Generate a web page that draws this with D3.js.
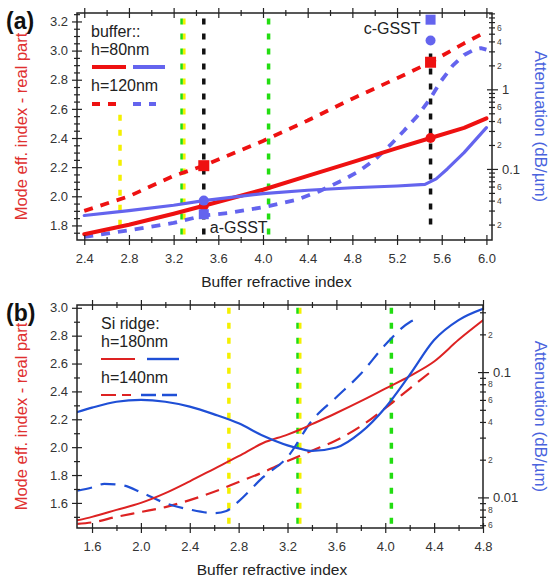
<!DOCTYPE html>
<html><head><meta charset="utf-8">
<script src="https://cdn.jsdelivr.net/npm/d3@7"></script>
<style>
body{margin:0;background:#fff}
svg{display:block}
text{font-family:"Liberation Sans",Arial,sans-serif}
</style>
</head><body>
<svg id="c" width="549" height="578"></svg>
<script>
// ---------- Panel (a): buffer thickness ----------
const aRedX = [2.4, 2.8, 3.2, 3.47, 4.0, 4.4, 4.8, 5.2, 5.5, 5.8, 6.0];
const aRedSolid = [1.74, 1.805, 1.88, 1.935, 2.045, 2.14, 2.235, 2.33, 2.40, 2.47, 2.535];
const aRedDash  = [1.90, 2.00, 2.14, 2.21, 2.38, 2.52, 2.67, 2.81, 2.92, 3.05, 3.13];
const aBlueSolidX = [2.4, 2.8, 3.2, 3.47, 4.0, 4.4, 4.8, 5.2, 5.45, 5.55, 5.65, 5.8, 6.0];
const aBlueSolid  = [0.026, 0.030, 0.035, 0.040, 0.049, 0.054, 0.058, 0.061, 0.064, 0.075, 0.10, 0.16, 0.33];
const aBlueDashX = [2.4, 2.8, 3.2, 3.47, 3.7, 4.0, 4.3, 4.5, 4.72, 4.85, 5.0, 5.14, 5.26, 5.38, 5.49, 5.59, 5.7, 5.8, 5.9, 5.95, 6.0];
const aBlueDash  = [0.014, 0.017, 0.021, 0.026, 0.028, 0.033, 0.041, 0.052, 0.073, 0.092, 0.13, 0.20, 0.30, 0.46, 0.74, 1.25, 2.0, 2.7, 3.2, 3.3, 3.15];
const aMarkX = [3.47, 5.5];
const aMarkLabel = ["a-GSST", "c-GSST"];
const aRedCircle = [1.935, 2.40];
const aRedSquare = [2.21, 2.92];
const aBlueCircle = [0.040, 4.1];
const aBlueSquare = [0.027, 7.5];
const aXTicks = [2.4, 2.8, 3.2, 3.6, 4.0, 4.4, 4.8, 5.2, 5.6, 6.0];
const aYTicks = [1.8, 2.0, 2.2, 2.4, 2.6, 2.8, 3.0, 3.2];
// vertical guide lines: x, y from, y to (left axis units), style
const aGuideX = [2.72, 3.28, 3.47, 4.05, 5.5];
const aGuideY0 = [1.77, 1.71, 1.71, 1.71, 1.75];
const aGuideY1 = [2.56, 3.22, 3.22, 3.22, 2.98];
const aGuideKind = ["yellow", "greenyellow", "black", "green", "black"];

// ---------- Panel (b): Si ridge thickness ----------
const bX = [1.48, 1.6, 1.8, 2.0, 2.2, 2.4, 2.6, 2.8, 3.0, 3.2, 3.3, 3.4, 3.6, 3.8, 4.0, 4.2, 4.4, 4.6, 4.8];
const bRedSolid  = [1.475, 1.50, 1.55, 1.60, 1.67, 1.755, 1.845, 1.935, 2.03, 2.09, 2.125, 2.165, 2.245, 2.33, 2.42, 2.51, 2.615, 2.77, 2.91];
const bBlueSolid = [0.048, 0.052, 0.058, 0.060, 0.058, 0.053, 0.046, 0.039, 0.031, 0.026, 0.0245, 0.0235, 0.025, 0.033, 0.052, 0.095, 0.18, 0.26, 0.32];
const bRedDashX = [1.48, 1.6, 1.8, 2.0, 2.2, 2.4, 2.6, 2.8, 3.0, 3.2, 3.4, 3.6, 3.8, 4.0, 4.2, 4.4];
const bRedDash  = [1.45, 1.46, 1.50, 1.535, 1.57, 1.62, 1.68, 1.75, 1.82, 1.90, 1.975, 2.05, 2.15, 2.28, 2.42, 2.56];
const bBlueDashX = [1.48, 1.6, 1.7, 1.85, 2.0, 2.2, 2.4, 2.6, 2.7, 2.8, 3.0, 3.2, 3.4, 3.6, 3.8, 4.0, 4.2, 4.28];
const bBlueDash  = [0.0113, 0.012, 0.0128, 0.0125, 0.011, 0.009, 0.008, 0.0075, 0.0078, 0.0093, 0.0145, 0.021, 0.041, 0.063, 0.097, 0.165, 0.25, 0.27];
const bXTicks = [1.6, 2.0, 2.4, 2.8, 3.2, 3.6, 4.0, 4.4, 4.8];
const bYTicks = [1.6, 1.8, 2.0, 2.2, 2.4, 2.6, 2.8, 3.0];
const bGuideX = [2.72, 3.29, 4.05];
const bGuideKind = ["yellow", "greenyellow", "green"];

const COL = {
  aRed: "#ee1111", aBlue: "#6464ee", bRed: "#dd2222", bBlue: "#1f4fd6",
  yellow: "#f4f000", green: "#22dd11", black: "#111", axis: "#222",
  titleRed: "#e03030", titleBlue: "#4a63dd"
};

const svg = d3.select("#c");

function rng(a, b, s) { const r = []; for (let v = a; v <= b + 1e-9; v += s) r.push(+v.toFixed(4)); return r; }

function drawPanel(o) {
  const g = svg.append("g");
  const x = d3.scaleLinear().domain(o.xDom).range([o.L, o.R]);
  const y = d3.scaleLinear().domain(o.yDom).range([o.B, o.T]);
  const yr = d3.scaleLog().domain(o.yrDom).range([o.B, o.T]);

  const clip = "clip" + o.id;
  svg.append("clipPath").attr("id", clip).append("rect")
    .attr("x", o.L).attr("y", o.T).attr("width", o.R - o.L).attr("height", o.B - o.T);
  const pg = g.append("g").attr("clip-path", `url(#${clip})`);

  o.guides.forEach(d => {
    const gx = x(d.x);
    const y0 = y(d.y0), y1 = y(d.y1);
    const seg = (dx, c, w) => pg.append("line").attr("x1", gx + dx).attr("x2", gx + dx)
      .attr("y1", y1).attr("y2", y0).attr("stroke", c).attr("stroke-width", w)
      .attr("stroke-dasharray", "6,9");
    if (d.kind === "yellow") seg(0, COL.yellow, 3.5);
    if (d.kind === "green") seg(0, COL.green, 3.5);
    if (d.kind === "black") seg(0, COL.black, 3.5);
    if (d.kind === "greenyellow") { seg(1.5, COL.yellow, 3); seg(-1, COL.green, 2.5); }
  });

  const lineL = (xs, ys, curve) => d3.line().x((d, i) => x(xs[i])).y(d => y(d)).curve(curve)(ys);
  const lineR = (xs, ys, curve) => d3.line().x((d, i) => x(xs[i])).y(d => yr(d)).curve(curve)(ys);
  o.series.forEach(s => {
    pg.append("path").attr("d", s.axis === "L" ? lineL(s.xs, s.ys, o.curve) : lineR(s.xs, s.ys, o.curve))
      .attr("fill", "none").attr("stroke", s.color).attr("stroke-width", s.w)
      .attr("stroke-dasharray", s.dash || null).attr("stroke-linecap", s.dash ? "butt" : "round")
      .attr("stroke-linejoin", "round");
  });

  if (o.after) o.after(g, x, y, yr);

  g.append("rect").attr("x", o.L).attr("y", o.T).attr("width", o.R - o.L).attr("height", o.B - o.T)
    .attr("fill", "none").attr("stroke", COL.axis).attr("stroke-width", 1.5);

  const ax = g.append("g").attr("transform", `translate(0,${o.B})`)
    .call(d3.axisBottom(x).tickValues(o.xTicks).tickSize(5).tickPadding(9).tickFormat(d3.format(".1f")));
  ax.selectAll(".tick line").attr("y1", -5);
  const axm = g.append("g").attr("transform", `translate(0,${o.B})`)
    .call(d3.axisBottom(x).tickValues(o.xMinor).tickSize(3).tickFormat(""));
  axm.selectAll(".tick line").attr("y1", -3);
  const axt = g.append("g").attr("transform", `translate(0,${o.T})`)
    .call(d3.axisTop(x).tickValues(o.xTicks).tickSize(5).tickFormat(""));
  axt.selectAll(".tick line").attr("y1", 5);
  const axtm = g.append("g").attr("transform", `translate(0,${o.T})`)
    .call(d3.axisTop(x).tickValues(o.xMinor).tickSize(3).tickFormat(""));
  axtm.selectAll(".tick line").attr("y1", 3);

  const ay = g.append("g").attr("transform", `translate(${o.L},0)`)
    .call(d3.axisLeft(y).tickValues(o.yTicks).tickSize(5).tickPadding(4).tickFormat(d3.format(".1f")));
  ay.selectAll(".tick line").attr("x1", 5);
  const aym = g.append("g").attr("transform", `translate(${o.L},0)`)
    .call(d3.axisLeft(y).tickValues(o.yMinor).tickSize(3).tickFormat(""));
  aym.selectAll(".tick line").attr("x1", 3);

  const all = yr.ticks().filter(v => v >= o.yrDom[0] && v <= o.yrDom[1]);
  const isMajor = v => Math.abs(Math.log10(v) - Math.round(Math.log10(v))) < 1e-6;
  const ar = g.append("g").attr("transform", `translate(${o.R},0)`)
    .call(d3.axisRight(yr).tickValues(all.filter(isMajor)).tickSize(6).tickPadding(4)
      .tickFormat(v => v >= 1 ? "1" : (v >= 0.1 ? "0.1" : "0.01")));
  ar.selectAll(".tick line").attr("x1", -5);
  const arm = g.append("g").attr("transform", `translate(${o.R},0)`)
    .call(d3.axisRight(yr).tickValues(all.filter(v => !isMajor(v))).tickSize(3).tickPadding(2)
      .tickFormat(v => { const m = Math.round(v / Math.pow(10, Math.floor(Math.log10(v) + 1e-9))); return o.minorLab.includes(m) ? m : ""; }));
  arm.selectAll(".tick line").attr("x1", -3);
  arm.selectAll("text").attr("font-size", 8.5).attr("fill", "#444");

  [ax, axm, axt, axtm, ay, aym, ar, arm].forEach(a => {
    a.select(".domain").remove();
    a.selectAll(".tick line").attr("stroke", COL.axis).attr("stroke-width", 1.2);
  });
  [ax, ay].forEach(a => a.selectAll("text").attr("font-size", 13).attr("fill", "#333"));
  ar.selectAll("text").attr("font-size", 13).attr("fill", "#333");

  g.append("text").attr("x", (o.L + o.R) / 2 - 8).attr("y", o.B + 47).attr("text-anchor", "middle")
    .attr("font-size", 15.5).attr("fill", "#222").text("Buffer refractive index");
  g.append("text").attr("transform", `translate(27,${(o.T + o.B) / 2}) rotate(-90)`)
    .attr("text-anchor", "middle").attr("font-size", 16.5).attr("fill", COL.titleRed)
    .text("Mode eff. index - real part");
  g.append("text").attr("transform", `translate(535,${(o.T + o.B) / 2}) rotate(90)`)
    .attr("text-anchor", "middle").attr("font-size", 17).attr("fill", COL.titleBlue)
    .text("Attenuation (dB/µm)");
  g.append("text").attr("x", 6).attr("y", o.T + 16).attr("font-size", 23).attr("font-weight", "bold")
    .attr("fill", "#111").text(o.label);

  const lg = g.append("g");
  o.legend.forEach(t => lg.append("text").attr("x", t.x).attr("y", t.y).attr("font-size", 16)
    .attr("fill", "#222").text(t.t));
  o.legendLines.forEach(l => lg.append("line").attr("x1", l.x1).attr("x2", l.x2).attr("y1", l.y).attr("y2", l.y)
    .attr("stroke", l.c).attr("stroke-width", l.w).attr("stroke-dasharray", l.dash || null));
}

drawPanel({
  id: "a", label: "(a)", L: 77, R: 492, T: 13, B: 240,
  xDom: [2.335, 6.05], yDom: [1.70, 3.258], yrDom: [0.0128, 9.1],
  xTicks: aXTicks, xMinor: rng(2.6, 5.8, 0.4), yTicks: aYTicks,
  yMinor: rng(1.75, 3.25, 0.05).filter(v => Math.abs(v * 5 - Math.round(v * 5)) > 1e-6),
  minorLab: [2, 4, 6], curve: d3.curveLinear,
  guides: aGuideX.map((v, i) => ({ x: v, y0: aGuideY0[i], y1: aGuideY1[i], kind: aGuideKind[i] })),
  series: [
    { axis: "L", xs: aRedX, ys: aRedDash, color: COL.aRed, w: 3.8, dash: "9,8" },
    { axis: "R", xs: aBlueDashX, ys: aBlueDash, color: COL.aBlue, w: 3.8, dash: "9,8" },
    { axis: "L", xs: aRedX, ys: aRedSolid, color: COL.aRed, w: 4 },
    { axis: "R", xs: aBlueSolidX, ys: aBlueSolid, color: COL.aBlue, w: 3.2 }
  ],
  after: (g, x, y, yr) => {
    aMarkX.forEach((mx, i) => {
      const px = x(mx);
      g.append("rect").attr("x", px - 5.5).attr("y", y(aRedSquare[i]) - 5.5).attr("width", 11).attr("height", 11).attr("fill", COL.aRed);
      g.append("circle").attr("cx", px).attr("cy", y(aRedCircle[i])).attr("r", 5).attr("fill", COL.aRed);
      g.append("rect").attr("x", px - 5).attr("y", yr(aBlueSquare[i]) - 5).attr("width", 10).attr("height", 10).attr("fill", COL.aBlue);
      g.append("circle").attr("cx", px).attr("cy", yr(aBlueCircle[i])).attr("r", 5).attr("fill", COL.aBlue);
    });
    g.append("text").attr("x", x(aMarkX[0]) + 6).attr("y", 233).attr("font-size", 16).attr("fill", "#222").text(aMarkLabel[0]);
    g.append("text").attr("x", x(aMarkX[1]) - 10).attr("y", 34).attr("text-anchor", "end").attr("font-size", 16).attr("fill", "#222").text(aMarkLabel[1]);
  },
  legend: [{ x: 91, y: 37, t: "buffer::" }, { x: 91, y: 55, t: "h=80nm" }, { x: 91, y: 91, t: "h=120nm" }],
  legendLines: [
    { x1: 92, x2: 126, y: 67, c: COL.aRed, w: 4 }, { x1: 133, x2: 165, y: 67, c: COL.aBlue, w: 4 },
    { x1: 92, x2: 118, y: 104, c: COL.aRed, w: 4, dash: "8,8" }, { x1: 133, x2: 156, y: 104, c: COL.aBlue, w: 4, dash: "8,8" }
  ]
});

drawPanel({
  id: "b", label: "(b)", L: 77, R: 483, T: 305, B: 528,
  xDom: [1.477, 4.80], yDom: [1.42, 3.02], yrDom: [0.0057, 0.343],
  xTicks: bXTicks, xMinor: rng(1.8, 4.6, 0.4), yTicks: bYTicks,
  yMinor: rng(1.5, 2.9, 0.2), minorLab: [2, 4, 6, 8], curve: d3.curveMonotoneX,
  guides: bGuideX.map((v, i) => ({ x: v, y0: 1.45, y1: 3.0, kind: bGuideKind[i] })),
  series: [
    { axis: "L", xs: bRedDashX, ys: bRedDash, color: COL.bRed, w: 2.2, dash: "14,8" },
    { axis: "R", xs: bBlueDashX, ys: bBlueDash, color: COL.bBlue, w: 2.2, dash: "15,9" },
    { axis: "L", xs: bX, ys: bRedSolid, color: COL.bRed, w: 2 },
    { axis: "R", xs: bX, ys: bBlueSolid, color: COL.bBlue, w: 2.2 }
  ],
  legend: [{ x: 101, y: 329, t: "Si ridge:" }, { x: 101, y: 347, t: "h=180nm" }, { x: 101, y: 383, t: "h=140nm" }],
  legendLines: [
    { x1: 101, x2: 135, y: 359, c: COL.bRed, w: 2.2 }, { x1: 147, x2: 179, y: 359, c: COL.bBlue, w: 2.4 },
    { x1: 101, x2: 131, y: 395, c: COL.bRed, w: 2.2, dash: "15,6" }, { x1: 141, x2: 180, y: 395, c: COL.bBlue, w: 2.4, dash: "15,6" }
  ]
});
</script>
</body></html>
